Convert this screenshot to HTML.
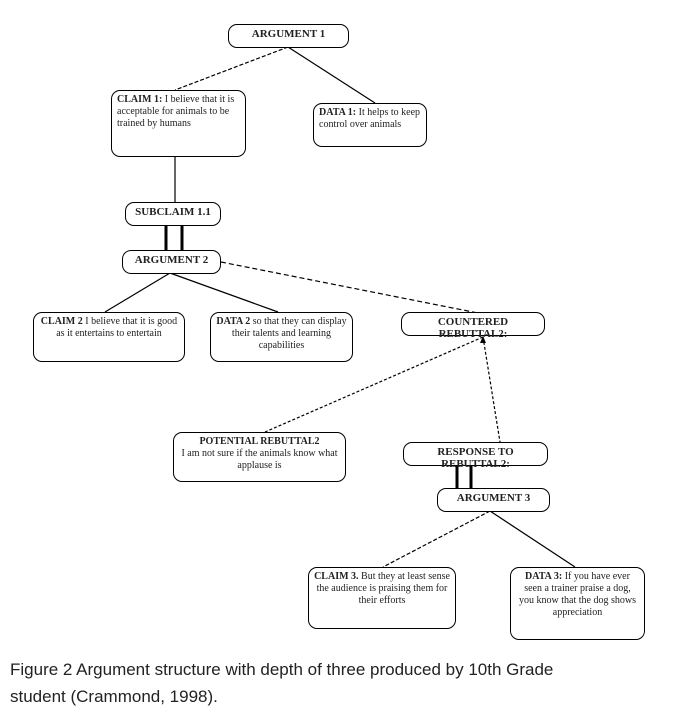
<!DOCTYPE html>
<html><head><meta charset="utf-8"><style>
body{margin:0;background:#fff;width:677px;height:718px;overflow:hidden;font-family:"Liberation Serif",serif}
svg{position:absolute;left:0;top:0}
.b{position:absolute;border:1.5px solid #000;border-radius:9px;box-sizing:border-box;font-size:10px;line-height:12px;color:#222;padding:3px 5px;background:#fff}
.c{text-align:center}
.t{font-weight:bold;font-size:11px}
.cap{position:absolute;left:10px;top:656px;font-family:"Liberation Sans",sans-serif;font-size:17px;line-height:27px;color:#222}
</style></head><body>
<svg width="677" height="718">
<g stroke="#000" stroke-width="1.2" fill="none">
<line x1="288" y1="47" x2="175" y2="90" stroke-dasharray="4,2"/>
<line x1="288" y1="47" x2="375" y2="103"/>
<line x1="175" y1="157" x2="175" y2="202"/>
<line x1="166" y1="225" x2="166" y2="250" stroke-width="3"/>
<line x1="182" y1="225" x2="182" y2="250" stroke-width="3"/>
<line x1="170" y1="273" x2="105" y2="312"/>
<line x1="170" y1="273" x2="278" y2="312"/>
<line x1="221" y1="262" x2="478" y2="313" stroke-dasharray="5,3"/>
<line x1="483" y1="337" x2="265" y2="432" stroke-dasharray="3,2"/>
<line x1="483" y1="337" x2="500" y2="442" stroke-dasharray="3,2"/>
<line x1="457" y1="466" x2="457" y2="488" stroke-width="3"/>
<line x1="471" y1="466" x2="471" y2="488" stroke-width="3"/>
<line x1="490" y1="511" x2="383" y2="567" stroke-dasharray="4,2"/>
<line x1="490" y1="511" x2="575" y2="567"/>
</g>
<polygon points="483,336 480,343 486,343" fill="#000"/>
</svg>
<div class="b t c" style="left:228px;top:24px;width:121px;height:24px">ARGUMENT 1</div>
<div class="b" style="left:111px;top:90px;width:135px;height:67px"><b>CLAIM 1:</b> I believe that it is acceptable for animals to be trained by humans</div>
<div class="b" style="left:313px;top:103px;width:114px;height:44px"><b>DATA 1:</b> It helps to keep control over animals</div>
<div class="b t c" style="left:125px;top:202px;width:96px;height:24px">SUBCLAIM 1.1</div>
<div class="b t c" style="left:122px;top:250px;width:99px;height:24px">ARGUMENT 2</div>
<div class="b c" style="left:33px;top:312px;width:152px;height:50px"><b>CLAIM 2</b> I believe that it is good as it entertains to entertain</div>
<div class="b c" style="left:210px;top:312px;width:143px;height:50px"><b>DATA 2</b> so that they can display their talents and learning capabilities</div>
<div class="b t c" style="left:401px;top:312px;width:144px;height:24px">COUNTERED REBUTTAL2:</div>
<div class="b c" style="left:173px;top:432px;width:173px;height:50px"><b>POTENTIAL REBUTTAL2</b><br>I am not sure if the animals know what applause is</div>
<div class="b t c" style="left:403px;top:442px;width:145px;height:24px">RESPONSE TO REBUTTAL2:</div>
<div class="b t c" style="left:437px;top:488px;width:113px;height:24px">ARGUMENT 3</div>
<div class="b c" style="left:308px;top:567px;width:148px;height:62px"><b>CLAIM 3.</b> But they at least sense the audience is praising them for their efforts</div>
<div class="b c" style="left:510px;top:567px;width:135px;height:73px"><b>DATA 3:</b> If you have ever seen a trainer praise a dog, you know that the dog shows appreciation</div>
<div class="cap"><b style="font-weight:normal">Figure 2</b> Argument structure with depth of three produced by 10th Grade<br>student (Crammond, 1998).</div>
</body></html>
